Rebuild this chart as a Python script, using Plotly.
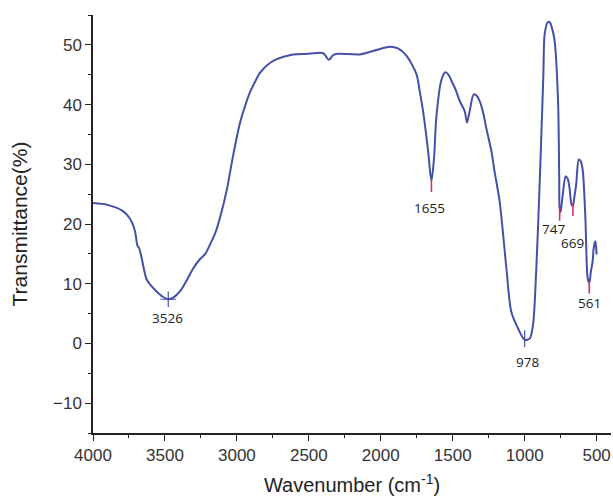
import plotly.graph_objects as go

# Spectrum (wavenumber cm-1, transmittance %)
wavenumber = [4000, 3900, 3800, 3766, 3730, 3708, 3695, 3690, 3680, 3662, 3627, 3590, 3558, 3520, 3480,
              3440, 3396, 3350, 3303, 3257, 3220, 3188, 3150, 3118, 3072, 3026, 2980, 2940, 2910, 2870, 2840,
              2790, 2724, 2611, 2500, 2400, 2361, 2330, 2297, 2146, 2050, 1938, 1880, 1822, 1752, 1730, 1706,
              1671, 1648, 1630, 1614, 1580, 1551, 1530, 1509, 1480, 1451, 1417, 1401, 1390, 1382, 1354,
              1330, 1313, 1290, 1267, 1231, 1210, 1174, 1127, 1093, 1046, 1000, 965, 942, 919, 896,
              884, 870, 861, 840, 826, 810, 792, 768, 760, 757, 750, 735, 715, 700, 688, 675, 665, 655,
              642, 624, 610, 596, 578, 562, 551, 540, 528, 520, 510, 505, 500]
transmittance = [23.5, 23.2, 22.3, 21.6, 20.3, 18.8, 16.8, 16.3, 16.0, 14.3, 10.7, 9.5, 8.7, 7.9, 7.4,
                 7.7, 8.7, 10.5, 12.6, 14.1, 15.0, 16.5, 18.5, 21.0, 25.5, 31.5, 36.8, 40.0, 42.0, 44.0, 45.3,
                 46.6, 47.6, 48.4, 48.5, 48.6, 47.5, 48.3, 48.5, 48.4, 49.0, 49.7, 49.4, 48.2, 45.1, 42.3, 38.9,
                 32.2, 27.2, 31.0, 37.8, 44.0, 45.4, 45.0, 44.0, 42.5, 40.6, 38.9, 37.0, 38.0, 38.9, 41.7,
                 41.4, 40.6, 38.8, 36.1, 32.2, 28.9, 23.8, 12.6, 5.3, 2.5, 0.6, 0.8, 3.1, 12.6, 26.6,
                 35.0, 45.0, 51.8, 53.8, 53.8, 52.8, 50.7, 40.6, 28.0, 22.7, 22.0, 25.0, 28.0, 27.5, 26.0,
                 23.3, 23.0, 24.5, 26.6, 30.8, 30.5, 28.9, 21.0, 10.9, 10.1, 12.0, 13.7, 16.0, 17.1,
                 16.5, 14.9]

# Peak markers
blue_peak_x = [3477]
blue_peak_y = [7.4]
blue_tick_x = [1000]
blue_tick_y = [0.8]
red_peak_x = [1648, 757, 665, 551]
red_peak_y = [26.4, 21.6, 22.4, 9.4]

# Peak labels
peak_labels = ["3526", "1655", "978", "747", "669", "561"]
label_x = [3479, 1660, 977, 803, 669, 549]
label_y = [4.2, 22.7, -3.1, 19.2, 16.8, 6.7]

line_color = "#4450A8"
red_color = "#D0306A"

fig = go.Figure()
fig.add_trace(go.Scatter(x=wavenumber, y=transmittance, mode="lines",
                         line=dict(color=line_color, width=2, shape="spline", smoothing=0.8),
                         showlegend=False, hoverinfo="skip"))
fig.add_trace(go.Scatter(x=blue_peak_x, y=blue_peak_y, mode="markers",
                         marker=dict(symbol="cross-thin-open", size=11, color=line_color,
                                     line=dict(color=line_color, width=1.2)),
                         showlegend=False))
fig.add_trace(go.Scatter(x=blue_tick_x, y=blue_tick_y, mode="markers",
                         marker=dict(symbol="line-ns-open", size=12, color=line_color,
                                     line=dict(color=line_color, width=1.2)),
                         showlegend=False))
fig.add_trace(go.Scatter(x=red_peak_x, y=red_peak_y, mode="markers",
                         marker=dict(symbol="line-ns-open", size=9, color=red_color,
                                     line=dict(color=red_color, width=1.6)),
                         showlegend=False))

for t, x, y in zip(peak_labels, label_x, label_y):
    fig.add_annotation(x=x, y=y, text=t, showarrow=False,
                       font=dict(family="Open Sans", size=13.5, color="#222222"))

axis_font = dict(family="Liberation Sans, Arial", size=17, color="#333333")
fig.update_xaxes(range=[4000, 400], tickvals=[4000, 3500, 3000, 2500, 2000, 1500, 1000, 500],
                 ticks="outside", ticklen=6, tickwidth=1.3, tickcolor="#222",
                 showline=True, linecolor="#222", linewidth=1.5, showgrid=False, zeroline=False,
                 minor=dict(dtick=250, tick0=0, ticks="outside", ticklen=3.5, tickwidth=1.3, tickcolor="#222"),
                 tickfont=axis_font,
                 title=dict(text="Wavenumber (cm<sup>-1</sup>)", standoff=14,
                            font=dict(family="Liberation Sans, Arial", size=20, color="#222")))
fig.update_yaxes(range=[-15, 55], tickvals=[-10, 0, 10, 20, 30, 40, 50],
                 ticks="outside", ticklen=6, tickwidth=1.3, tickcolor="#222",
                 showline=True, linecolor="#222", linewidth=1.5, showgrid=False, zeroline=False,
                 minor=dict(dtick=5, tick0=0, ticks="outside", ticklen=3.5, tickwidth=1.3, tickcolor="#222"),
                 tickfont=axis_font,
                 title=dict(text="Transmittance(%)", standoff=20,
                            font=dict(family="Liberation Sans, Arial", size=21, color="#222")))

fig.update_layout(width=613, height=498, margin=dict(l=93, r=2, t=15, b=65),
                  plot_bgcolor="white", paper_bgcolor="white")

fig.write_html("out.html")
